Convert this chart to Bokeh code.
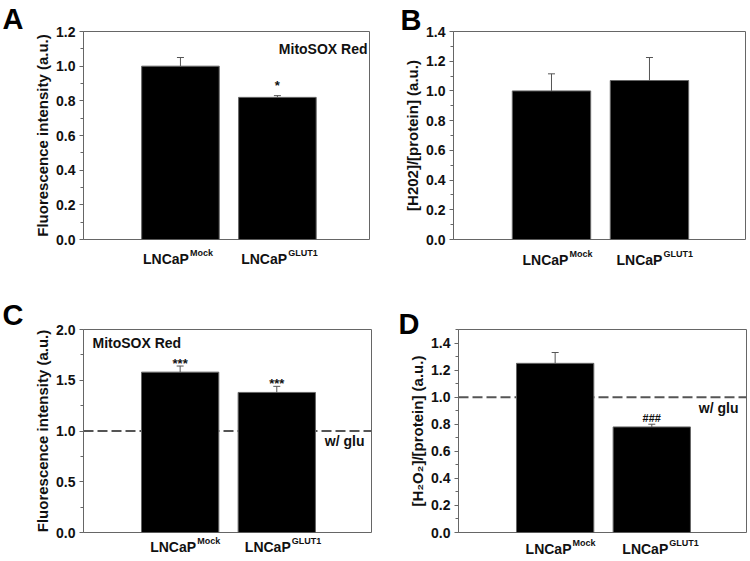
from bokeh.plotting import figure
from bokeh.models import (ColumnDataSource, Whisker, TeeHead, Span, Label,
                          FixedTicker, Range1d, PrintfTickFormatter, Title,
                          LinearAxis)
from bokeh.layouts import row, column
from bokeh.embed import file_html
from bokeh.resources import INLINE

# ---------------- data ----------------
group_names = ["LNCaP", "LNCaP"]
group_sups = ["Mock", "GLUT1"]
group_pos = [1, 2]

a_values = [1.00, 0.82]
a_errors = [0.05, 0.01]
a_marks = ["", "*"]

b_values = [1.00, 1.07]
b_errors = [0.115, 0.155]
b_marks = ["", ""]

c_values = [1.58, 1.38]
c_errors = [0.06, 0.06]
c_marks = ["***", "***"]

d_values = [1.25, 0.78]
d_errors = [0.08, 0.02]
d_marks = ["", "###"]

ref_level = 1.0   # "w/ glu" reference

a_ticks = [0.0, 0.2, 0.4, 0.6, 0.8, 1.0, 1.2]
a_minor = [0.1, 0.3, 0.5, 0.7, 0.9, 1.1]
b_ticks = [0.0, 0.2, 0.4, 0.6, 0.8, 1.0, 1.2, 1.4]
b_minor = [0.1, 0.3, 0.5, 0.7, 0.9, 1.1, 1.3]
c_ticks = [0.0, 0.5, 1.0, 1.5, 2.0]
c_minor = [0.25, 0.75, 1.25, 1.75]
d_ticks = [0.0, 0.2, 0.4, 0.6, 0.8, 1.0, 1.2, 1.4]
d_minor = [0.1, 0.3, 0.5, 0.7, 0.9, 1.1, 1.3, 1.5]

# ---------------- style ----------------
FONT = "Liberation Sans"
GRAY = "#666666"
DGRAY = "#555555"
W, H = 375, 280
BASE_HALF = 23.0           # half width (px) of "LNCaP" at 14px bold
SUP_HALF = [11.5, 14.8]    # half widths (px) of superscripts at 9px bold


def txt(**kw):
    base = dict(text_font=FONT, text_font_style="bold", text_font_size="14px",
                text_color="#111111", text_baseline="middle")
    base.update(kw)
    return Label(**base)


def xaxis(ticks, labels, size, standoff):
    xa = LinearAxis(ticker=FixedTicker(ticks=ticks, minor_ticks=[]),
                    major_label_overrides=dict(zip(ticks, labels)))
    xa.axis_line_color = None
    xa.major_tick_line_color = None
    xa.minor_tick_line_color = None
    xa.major_tick_out = 0
    xa.major_tick_in = 0
    xa.minor_tick_out = 0
    xa.minor_tick_in = 0
    xa.axis_label_standoff = 0
    xa.major_label_standoff = standoff
    xa.major_label_text_font = FONT
    xa.major_label_text_font_style = "bold"
    xa.major_label_text_font_size = size
    xa.major_label_text_line_height = 1.0
    xa.major_label_text_color = "#111111"
    return xa


def panel(letter, ylabel, values, errors, marks, ymax, ticks, minor, xend,
          borders, letter_pos, lab_xoff, lab_standoff, mark_off, mark_size,
          note=None, note_off=None, glu=False, glu_off=None):
    l, r, t, b = borders
    p = figure(width=W, height=H, x_range=Range1d(0, xend),
               y_range=Range1d(0, ymax), output_backend="svg",
               toolbar_location=None, min_border_left=l, min_border_right=r,
               min_border_top=t, min_border_bottom=b)
    p.xgrid.visible = False
    p.ygrid.visible = False
    p.xaxis.visible = False
    p.outline_line_color = GRAY
    p.outline_line_width = 1
    p.background_fill_color = "white"
    p.border_fill_color = "white"
    pxu = (W - l - r) / xend

    ax = p.yaxis[0]
    ax.ticker = FixedTicker(ticks=ticks, minor_ticks=minor)
    ax.formatter = PrintfTickFormatter(format="%.1f")
    ax.axis_line_color = GRAY
    ax.major_tick_line_color = GRAY
    ax.minor_tick_line_color = GRAY
    ax.major_tick_in = 0
    ax.major_tick_out = 4
    ax.minor_tick_in = 0
    ax.minor_tick_out = 3
    ax.major_label_standoff = 4
    ax.major_label_text_font = FONT
    ax.major_label_text_font_style = "bold"
    ax.major_label_text_font_size = "14px"
    ax.major_label_text_color = "#111111"
    ax.axis_label = ylabel
    ax.axis_label_text_font = FONT
    ax.axis_label_text_font_style = "bold"
    ax.axis_label_text_font_size = "15px"
    ax.axis_label_text_color = "#111111"
    ax.axis_label_standoff = 2

    if glu:
        p.add_layout(Span(location=ref_level, dimension="width",
                          line_color=DGRAY, line_width=2, line_dash="10 4",
                          level="underlay"))
        p.add_layout(txt(x=xend, y=ref_level, x_offset=glu_off[0],
                         y_offset=glu_off[1], text="w/ glu",
                         text_align="right"))

    src = ColumnDataSource(dict(
        x=group_pos, top=values,
        upper=[v + e for v, e in zip(values, errors)]))
    p.vbar(x="x", top="top", bottom=0, width=0.8, source=src,
           fill_color="black", line_color=GRAY, line_width=1)
    p.add_layout(Whisker(base="x", lower="top", upper="upper", source=src,
                         dimension="height", line_color=DGRAY, line_width=1,
                         upper_head=TeeHead(size=7, line_color=DGRAY,
                                            line_width=1),
                         lower_head=None, level="glyph"))

    for xp, v, e, m in zip(group_pos, values, errors, marks):
        if m:
            p.add_layout(txt(x=xp, y=v + e, y_offset=mark_off, text=m,
                             text_align="center", text_font_size=mark_size))

    if note:
        nx = xend if note_off[2] == "right" else 0
        p.add_layout(txt(x=nx, y=ymax, x_offset=note_off[0],
                         y_offset=note_off[1], text=note,
                         text_align=note_off[2]))

    # category labels: superscript axis (nearest the frame) + base axis
    sup_ticks = [round(g + (o + 1 + h) / pxu, 4)
                 for g, o, h in zip(group_pos, lab_xoff, SUP_HALF)]
    base_ticks = [round(g + (o - BASE_HALF) / pxu, 4)
                  for g, o in zip(group_pos, lab_xoff)]
    p.add_layout(xaxis(sup_ticks, group_sups, "9px", lab_standoff), "below")
    p.add_layout(xaxis(base_ticks, group_names, "14px", -10), "below")

    p.add_layout(Title(text=letter, align="left", offset=letter_pos[0],
                       standoff=letter_pos[1], text_font=FONT,
                       text_font_style="bold", text_font_size="29px",
                       text_color="black"), "above")
    return p


pa = panel("A", "Fluorescence intensity (a.u.)", a_values, a_errors, a_marks,
           1.2, a_ticks, a_minor, 2.95, (83, 6, 31, 41), (-81, -6),
           [8.5, 9.7], 8, 10, "13px",
           note="MitoSOX Red", note_off=(-2, -17.5, "right"))
pb = panel("B", "[H202]/[protein] (a.u.)", b_values, b_errors, b_marks,
           1.4, b_ticks, b_minor, 2.98, (78, 5, 29, 41), (-53, -9),
           [17, 13], 9, 5, "13px")
pc = panel("C", "Fluorescence intensity (a.u.)", c_values, c_errors, c_marks,
           2.0, c_ticks, c_minor, 2.98, (83, 4, 49, 25), (-81, -2),
           [16, 14], 3, 3, "13px",
           note="MitoSOX Red", note_off=(9, -13.3, "left"),
           glu=True, glu_off=(-7, -10))
pd_ = panel("D", "[H\u2082O\u2082]/[protein] (a.u.)", d_values, d_errors,
            d_marks, 1.5, d_ticks, d_minor, 2.98, (83, 4, 43, 28), (-60, -20),
            [16.4, 16.5], 5, 6, "11px",
            glu=True, glu_off=(-8, -11))

layout = column(row(pa, pb), row(pc, pd_))

open("out.html", "w").write(file_html(layout, INLINE))
